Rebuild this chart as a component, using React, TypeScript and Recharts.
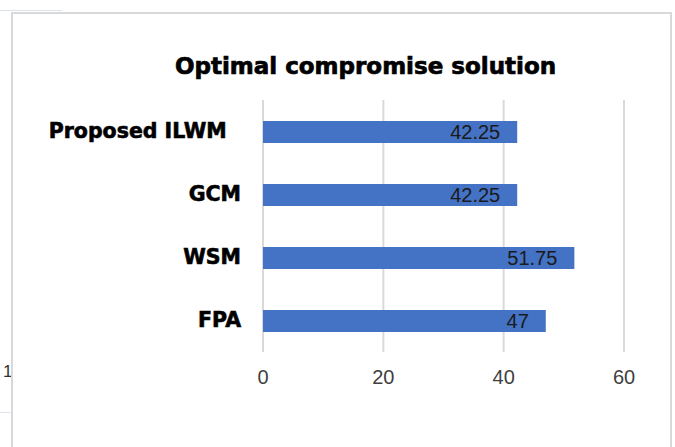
import React from 'react';
import { BarChart, Bar, XAxis, YAxis, CartesianGrid, LabelList } from 'recharts';

// Methods compared, listed top to bottom as they appear in the chart
const methods = ['Proposed ILWM\u00a0\u00a0', 'GCM', 'WSM', 'FPA'];
const scores = [42.25, 42.25, 51.75, 47];
const xTicks = [0, 20, 40, 60];

const chartData = methods.map((name, i) => ({ name, score: scores[i] }));

// heavy bold category labels (stroke thickens DejaVu Bold a little)
const MethodTick = (props: any) => {
  const { x, y, payload } = props;
  return (
    <text
      x={x}
      y={y}
      dy="0.3em"
      textAnchor="end"
      fill="#000000"
      stroke="#000000"
      strokeWidth={0.6}
      fontFamily="'DejaVu Sans', sans-serif"
      fontWeight="bold"
      fontSize={20.5}
    >
      {payload.value}
    </text>
  );
};

export default function App() {
  return (
    <div
      style={{
        position: 'absolute',
        left: 0,
        top: 0,
        width: 675,
        height: 447,
        overflow: 'hidden',
        background: '#ffffff',
      }}
    >
      {/* bits of the surrounding sheet */}
      <div style={{ position: 'absolute', left: 0, top: 10, width: 62, height: 1, background: '#dde3ea' }} />
      <div style={{ position: 'absolute', left: 0, top: 412, width: 11, height: 1, background: '#dde3ea' }} />
      <div
        style={{
          position: 'absolute',
          left: 3,
          top: 362,
          fontFamily: "'Liberation Sans', Arial, sans-serif",
          fontSize: 17,
          color: '#333333',
        }}
      >
        1
      </div>

      {/* chart frame, open at the bottom */}
      <div
        style={{
          position: 'absolute',
          left: 11,
          top: 12,
          width: 657,
          height: 440,
          borderTop: '2px solid #d9d9d9',
          borderLeft: '2px solid #d9d9d9',
          borderRight: '2px solid #d9d9d9',
          background: '#ffffff',
        }}
      />

      <div
        style={{
          position: 'absolute',
          left: 0,
          top: 55,
          width: 731,
          textAlign: 'center',
          fontFamily: "'DejaVu Sans', sans-serif",
          fontWeight: 'bold',
          fontSize: 23,
          lineHeight: '23px',
          color: '#000000',
          WebkitTextStroke: '0.7px #000000',
        }}
      >
        Optimal compromise solution
      </div>

      <div style={{ position: 'absolute', left: 0, top: 0 }}>
        <BarChart
          width={675}
          height={447}
          data={chartData}
          layout="vertical"
          barSize={22}
          margin={{ top: 100, right: 51, bottom: 55, left: 0 }}
        >
          <CartesianGrid horizontal={false} stroke="#d9d9d9" strokeWidth={2} />
          <XAxis
            type="number"
            domain={[0, 60]}
            ticks={xTicks}
            axisLine={false}
            tickLine={false}
            height={40}
            tickMargin={12}
            tick={{ fill: '#3f3f3f', fontSize: 20, fontFamily: "'Liberation Sans', Arial, sans-serif" }}
          />
          <YAxis
            type="category"
            dataKey="name"
            width={263}
            axisLine={false}
            tickLine={false}
            tickMargin={16}
            tick={<MethodTick />}
          />
          <Bar dataKey="score" fill="#4472c4" isAnimationActive={false}>
            <LabelList
              dataKey="score"
              position="insideRight"
              offset={17}
              fill="#1a1a1a"
              fontSize={20}
              fontFamily="'Liberation Sans', Arial, sans-serif"
            />
          </Bar>
        </BarChart>
      </div>
    </div>
  );
}
